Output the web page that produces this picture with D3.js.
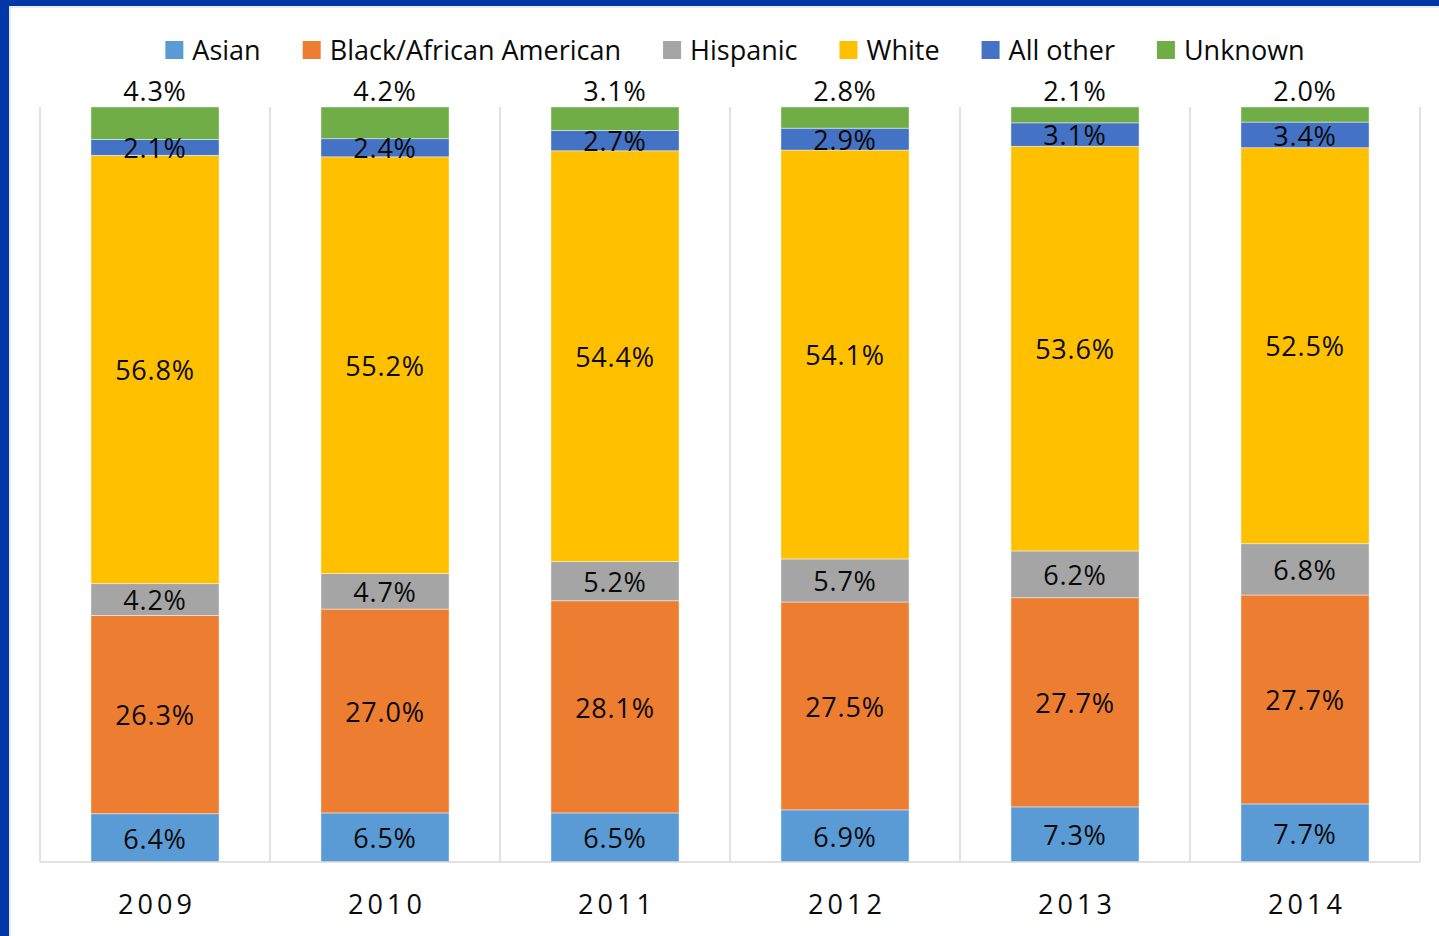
<!DOCTYPE html>
<html><head><meta charset="utf-8">
<script src="https://cdn.jsdelivr.net/npm/d3@7"></script>
<style>
html,body{margin:0;padding:0;background:#fff;}
svg{display:block;}
text{font-family:"Open Sans","Noto Sans",sans-serif;fill:#0a0a0a;}
</style></head>
<body>
<svg id="chart" width="1439" height="936"></svg>
<script>
const years = ["2009","2010","2011","2012","2013","2014"];
const seriesNames = ["Asian","Black/African American","Hispanic","White","All other","Unknown"];
const asian    = [6.4, 6.5, 6.5, 6.9, 7.3, 7.7];
const black    = [26.3, 27.0, 28.1, 27.5, 27.7, 27.7];
const hispanic = [4.2, 4.7, 5.2, 5.7, 6.2, 6.8];
const white    = [56.8, 55.2, 54.4, 54.1, 53.6, 52.5];
const allOther = [2.1, 2.4, 2.7, 2.9, 3.1, 3.4];
const unknown  = [4.3, 4.2, 3.1, 2.8, 2.1, 2.0];
const colors = ["#5B9BD5","#ED7D31","#A5A5A5","#FFC000","#4472C4","#70AD47"];

const seriesValues = [asian, black, hispanic, white, allOther, unknown];
const rows = years.map((y,i)=>{
  const r = {year:y};
  seriesNames.forEach((s,k)=>r[s]=seriesValues[k][i]);
  return r;
});

const svg = d3.select("#chart");
// frame
svg.append("rect").attr("x",0).attr("y",0).attr("width",1439).attr("height",936).attr("fill","#fff");
svg.append("rect").attr("x",0).attr("y",0).attr("width",9).attr("height",936).attr("fill","#0038A8");
svg.append("rect").attr("x",0).attr("y",0).attr("width",1439).attr("height",6).attr("fill","#0038A8");
svg.append("line").attr("x1",10).attr("x2",10).attr("y1",6).attr("y2",936).attr("stroke","#d9d9d9").attr("stroke-width",1);
svg.append("line").attr("x1",9).attr("x2",1439).attr("y1",7).attr("y2",7).attr("stroke","#d9d9d9").attr("stroke-width",1);

const x = d3.scaleBand().domain(years).range([40,1420]).paddingInner(0.443).paddingOuter(0.2215);
const y = d3.scaleLinear().domain([0,1]).range([862,107]);

const stack = d3.stack().keys(seriesNames).offset(d3.stackOffsetExpand);
const stacked = stack(rows);

// grid separators
const step = x.step();
const bounds = d3.range(years.length+1).map(i=>40+i*step);
svg.append("g").selectAll("line").data(bounds).join("line")
  .attr("x1",d=>d).attr("x2",d=>d).attr("y1",y(1)).attr("y2",y(0))
  .attr("stroke","#d9d9d9").attr("stroke-width",1.5);

// bars
const g = svg.append("g");
stacked.forEach((layer,k)=>{
  g.append("g").selectAll("rect").data(layer).join("rect")
    .attr("x",d=>x(d.data.year))
    .attr("width",x.bandwidth())
    .attr("y",d=>y(d[1]))
    .attr("height",d=>y(d[0])-y(d[1]))
    .attr("fill",colors[k])
    .attr("stroke","#ffffff").attr("stroke-width",0.75).attr("stroke-opacity",0.6);
});

// baseline
svg.append("line").attr("x1",40).attr("x2",1420).attr("y1",y(0)).attr("y2",y(0))
  .attr("stroke","#d9d9d9").attr("stroke-width",1.5);

// labels
stacked.forEach((layer,k)=>{
  const last = k===stacked.length-1;
  g.append("g").selectAll("text").data(layer).join("text")
    .attr("x",d=>x(d.data.year)+x.bandwidth()/2)
    .attr("y",d=> last ? y(d[1])-16 : (y(d[0])+y(d[1]))/2 + 1)
    .attr("dy","0.36em")
    .attr("text-anchor","middle")
    .attr("font-size",27)
    .attr("letter-spacing",0.8)
    .text(d=>d.data[layer.key].toFixed(1)+"%");
});

// x axis labels
svg.append("g").selectAll("text").data(years).join("text")
  .attr("x",d=>x(d)+x.bandwidth()/2+2)
  .attr("y",904)
  .attr("dy","0.36em")
  .attr("text-anchor","middle")
  .attr("font-size",27)
  .attr("letter-spacing",4)
  .text(d=>d);

// legend
const leg = svg.append("g");
const items = leg.selectAll("g").data(seriesNames).join("g");
items.append("rect").attr("width",18).attr("height",18).attr("y",41).attr("fill",(d,i)=>colors[i]);
items.append("text").attr("x",27).attr("y",50).attr("dy","0.36em").attr("font-size",27).text(d=>d);
let cx = 0;
const widths = [];
items.each(function(){ widths.push(27 + this.querySelector("text").getComputedTextLength()); });
const gap = 42;
const total = d3.sum(widths) + gap*(widths.length-1);
cx = 735 - total/2;
items.attr("transform",(d,i)=>{ const t = `translate(${cx},0)`; cx += widths[i]+gap; return t; });
</script>
</body></html>
